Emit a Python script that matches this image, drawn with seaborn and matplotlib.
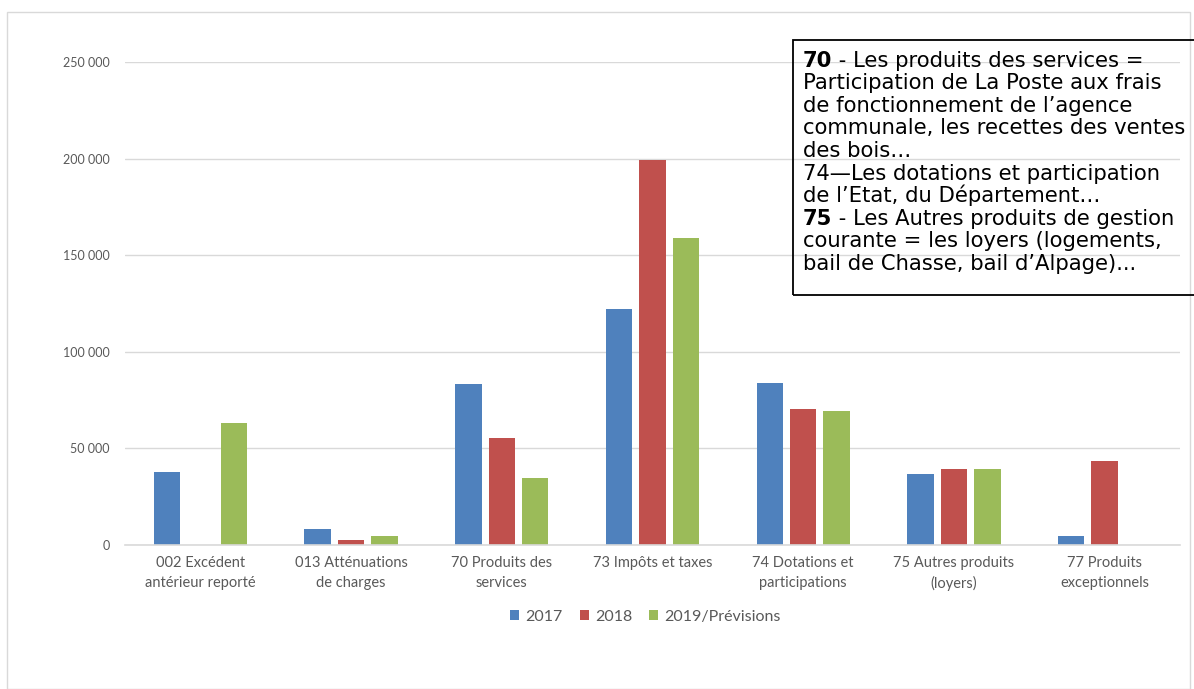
import pandas as pd
import seaborn as sns
from matplotlib import pyplot as plt
from matplotlib.patches import Rectangle
from matplotlib.ticker import FuncFormatter, FixedLocator

categories = [
    "002 Excédent\nantérieur reporté",
    "013 Atténuations\nde charges",
    "70 Produits des\nservices",
    "73 Impôts et taxes",
    "74 Dotations et\nparticipations",
    "75 Autres produits\n(loyers)",
    "77 Produits\nexceptionnels",
]
years = ["2017", "2018", "2019/Prévisions"]
values_2017 = [37700, 8500, 83500, 122200, 84000, 36500, 4800]
values_2018 = [0, 2400, 55400, 199100, 70500, 39400, 43600]
values_2019 = [63200, 4800, 34500, 159000, 69100, 39400, 0]
colors = ["#4F81BD", "#C0504D", "#9BBB59"]

# note box text: (bold prefix, rest of line)
note_lines = [
    ("70", " - Les produits des services ="),
    ("", "Participation de La Poste aux frais"),
    ("", "de fonctionnement de l’agence"),
    ("", "communale, les recettes des ventes"),
    ("", "des bois…"),
    ("", "74—Les dotations et participation"),
    ("", "de l’Etat, du Département…"),
    ("75", " - Les Autres produits de gestion"),
    ("", "courante = les loyers (logements,"),
    ("", "bail de Chasse, bail d’Alpage)..."),
]

rows = []
for year, vals in zip(years, [values_2017, values_2018, values_2019]):
    for cat, v in zip(categories, vals):
        rows.append([cat, year, v])
df = pd.DataFrame(rows, columns=["category", "year", "value"])

sns.set_style("white")
plt.rcParams["font.family"] = ["Lato", "DejaVu Sans"]

W, H = 1194, 689
fig = plt.figure(figsize=(W / 100, H / 100), dpi=100)
ax = fig.add_axes([125 / W, 1 - 545 / H, (1180 - 125) / W, (545 - 62) / H])

sns.barplot(
    data=df, x="category", y="value", hue="year", order=categories,
    hue_order=years, palette=colors, saturation=1, width=0.665, gap=0.21,
    errorbar=None, linewidth=0, ax=ax
)

ax.set_ylim(0, 250000)
ax.set_xlim(-0.5, len(categories) - 0.5)
ax.yaxis.set_major_locator(FixedLocator([0, 50000, 100000, 150000, 200000, 250000]))
ax.yaxis.set_major_formatter(FuncFormatter(lambda v, _: f"{int(v):,}".replace(",", " ")))
ax.yaxis.grid(True, color="#D9D9D9", linewidth=1)
ax.set_axisbelow(True)
for side in ["left", "top", "right"]:
    ax.spines[side].set_visible(False)
ax.spines["bottom"].set_color("#D9D9D9")
ax.spines["bottom"].set_linewidth(1.2)

ax.tick_params(axis="y", length=0, labelsize=9, labelcolor="#595959", pad=11)
ax.tick_params(axis="x", which="major", length=0, labelsize=10.5, labelcolor="#595959", pad=8)
ax.set_xticks([i - 0.5 for i in range(len(categories) + 1)], minor=True)
ax.tick_params(axis="x", which="minor", length=5, color="#D9D9D9", width=1.2)
for lab in ax.get_xticklabels():
    lab.set_linespacing(1.5)
ax.set_xlabel("")
ax.set_ylabel("")

handles, labels = ax.get_legend_handles_labels()
ax.legend(
    handles, labels, loc="center", bbox_to_anchor=(645.5 / W, 1 - 617 / H),
    bbox_transform=fig.transFigure, ncol=3, frameon=False, fontsize=11.5,
    handlelength=0.56, handleheight=0.56, handletextpad=0.4, columnspacing=1.05,
    labelcolor="#595959"
)

# outer chart frame
fig.add_artist(Rectangle((7 / W, 0), (1190 - 7) / W, 1 - 12 / H,
                         transform=fig.transFigure, fill=False,
                         edgecolor="#D9D9D9", linewidth=1))

# note box
fig.add_artist(Rectangle((793 / W, 1 - 295 / H), (1210 - 793) / W, (295 - 40) / H,
                         transform=fig.transFigure, fill=False,
                         edgecolor="black", linewidth=1.3, clip_on=False))
box_font = {"family": "DejaVu Sans", "size": 15.2, "color": "black"}
for i, (bold, rest) in enumerate(note_lines):
    y = 1 - (66.6 + i * 22.6) / H
    if bold:
        t = fig.text(803 / W, y, bold, fontweight="bold", va="baseline", **box_font)
        ax.annotate(rest, xy=(1, 0), xycoords=t, va="bottom", ha="left",
                    annotation_clip=False, **box_font)
    else:
        fig.text(803 / W, y, rest, va="baseline", **box_font)

fig.savefig("out.png", dpi=100)
